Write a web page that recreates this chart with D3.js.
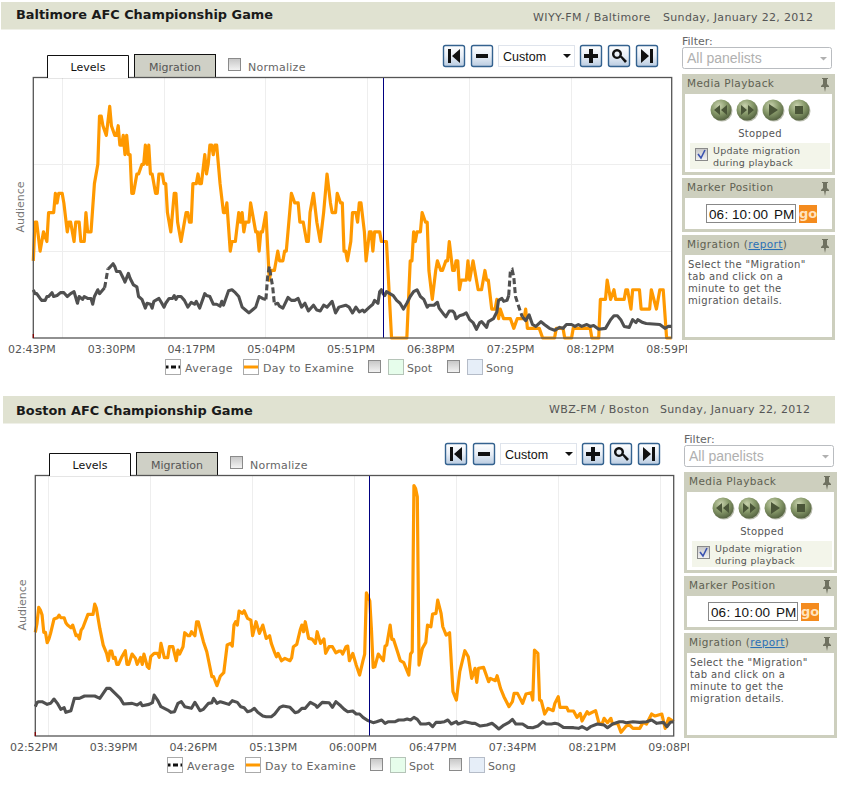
<!DOCTYPE html>
<html>
<head>
<meta charset="utf-8">
<style>
  html, body { margin: 0; padding: 0; background: #fff; }
  svg { display: block; }
  text { font-family: "DejaVu Sans", sans-serif; }
  .arial { font-family: "Liberation Sans", sans-serif; }
</style>
<script src="https://cdnjs.cloudflare.com/ajax/libs/d3/7.8.5/d3.min.js"></script>
</head>
<body>
<svg id="page" width="861" height="796"></svg>
<script>
// minutes after the first tick, audience level
const baltDayT = [0,1,2,4,5,6,8,9,12,13,14,15,17,18,20,21,22,24,25,27,28,30,31,32,34,36,38,39,40,41,43,45,46,48,49,50,51,52,53,54,55,56,57,58,59,60,61,62,64,65,66,67,68,69,70,72,73,74,76,77,78,79,81,83,84,85,87,88,90,91,92,93,94,96,97,98,99,101,102,103,104,105,106,107,108,110,112,113,114,116,117,119,121,122,123,124,125,127,128,131,132,133,134,135,136,137,139,140,142,144,145,147,148,149,150,151,152,154,156,157,159,161,162,163,165,167,169,171,172,173,175,176,178,179,181,182,183,184,185,187,188,190,191,192,193,195,196,198,199,200,201,204,205,208,211,220,222,223,224,225,226,228,229,231,232,233,235,237,238,240,241,243,244,245,247,248,249,250,251,252,255,256,257,259,262,264,266,267,268,270,272,273,274,275,277,281,283,285,289,290,291,298,300,307,308,312,313,317,318,328,329,333,334,337,338,340,342,343,348,349,350,352,353,357,358,363,364,367,369,371,373,376];
const baltDayV = [8,12,12,9,10,11,10,13,13,15,14,15,15,14,11,12,12,10,12,12,10,10,13,11,11,16,18,23,23,22,21,24,22,21,21,22,20,20,21,19,21,19,19,15,15,16,17,17,18,18,20,18,20,17,17,15,15,17,17,16,16,13,11,15,15,12,10,11,13,13,12,12,16,16,17,16,16,19,17,18,20,20,19,20,20,16,13,13,14,9,10,10,13,12,13,11,12,12,14,11,11,9,11,11,12,13,6,7,7,9,8,8,9,9,11,13,15,14,14,12,12,10,10,13,15,12,10,13,15,17,14,13,13,15,14,14,9,9,8,10,13,13,12,14,14,11,8,11,11,9,11,11,10,10,0,0,8,8,11,10,11,11,13,12,12,7,4,7,8,7,7,8,8,10,7,7,8,8,5,6,6,8,6,8,5,5,7,6,6,3,3,4,2,3,2,2,1,2,2,3,1,1,0,0,1,1,0,0,1,1,0,0,4,4,6,4,5,4,4,5,5,3,5,5,3,3,5,3,5,5,0,0];
const baltAvgT = [0,1,2,4,5,7,8,9,11,12,14,16,18,20,22,24,26,27,29,30,32,34,35,36,38,39,40,42,43,44,45,47,48,49,51,53,54,56,57,59,61,62,64,66,67,69,70,71,74,75,77,78,80,82,83,84,85,87,89,91,93,95,96,98,101,102,104,106,108,110,111,112,115,117,119,121,123,125,127,129,131,133,135,137,138,139,140,141,142,144,145,147,150,152,154,156,158,160,162,165,167,169,171,173,174,176,178,180,184,186,188,190,192,194,195,198,200,201,203,204,205,206,207,208,210,212,214,216,218,220,222,224,226,228,230,232,233,236,238,239,242,243,245,247,248,249,251,253,255,257,259,261,263,264,267,268,271,273,274,276,277,279,280,281,282,283,284,286,288,290,292,294,296,299,301,304,307,310,312,314,317,319,321,323,326,328,330,333,337,340,342,344,346,348,351,353,355,356,359,361,369,372,374,376];
const baltAvgV = [5.0,4.6,4.6,4.1,3.9,3.9,4.3,4.3,4.7,4.3,4.4,4.7,4.7,4.3,4.6,4.8,3.6,4.3,4.0,4.3,4.1,4.1,3.5,4.3,5.0,4.6,4.8,5.2,6.2,7.2,7.3,7.7,7.4,6.9,6.9,6.2,5.8,6.7,6.2,5.5,5.3,4.3,4.0,3.1,3.6,3.5,3.1,3.8,4.1,3.8,3.2,3.6,4.1,4.1,4.4,4.0,4.3,4.3,3.9,3.2,3.7,3.5,3.8,3.1,4.6,4.4,4.3,3.5,3.5,3.3,3.8,3.4,4.9,5.0,4.7,4.3,3.2,2.9,2.6,2.9,3.2,4.3,4.1,4.0,6.3,7.4,6.3,5.3,3.5,3.6,3.3,3.1,4.2,3.9,3.9,4.1,3.2,3.6,2.8,3.4,2.9,2.8,3.4,3.2,3.4,3.8,2.6,3.2,3.4,3.2,2.6,3.2,2.7,2.9,2.7,3.2,3.5,3.9,3.6,4.8,5.0,4.6,4.4,4.8,4.6,4.4,3.9,3.6,3.0,3.6,4.3,4.8,5.0,4.3,4.0,3.2,3.4,3.4,3.7,3.1,2.4,2.2,2.8,2.8,2.6,2.0,2.3,2.4,2.6,1.9,1.6,0.9,1.6,1.7,1.1,1.7,2.0,2.7,3.9,4.1,3.8,3.9,4.4,7.0,7.1,6.3,4.3,3.2,2.2,1.8,2.4,1.4,1.2,1.7,1.4,1.0,0.8,1.1,1.0,1.4,1.4,1.2,1.4,1.2,1.4,1.2,1.3,0.9,1.0,1.9,2.3,2.3,1.9,1.2,1.1,1.9,1.6,1.9,1.6,1.5,1.4,1.0,1.2,1.2];
const baltDashed = [[42,44],[137,142],[280,288]];
const baltTicks = ["02:43PM","03:30PM","04:17PM","05:04PM","05:51PM","06:38PM","07:25PM","08:12PM","08:59PM"];
const baltHours = [17,77,137,197,257,317];
const baltLevels = [9,18];
const baltMarker = 206;

const bosDayT = [0,1,2,3,4,5,6,7,8,9,11,13,14,15,17,18,19,21,22,24,25,26,27,28,31,34,35,36,38,40,42,43,44,45,46,47,48,49,51,53,54,55,57,59,60,62,63,64,66,67,68,70,72,73,74,76,78,79,81,83,84,85,87,88,90,91,92,94,95,96,97,99,101,102,104,105,107,109,111,113,115,116,117,118,119,120,122,123,125,127,128,130,132,134,136,138,139,141,142,143,145,147,150,151,152,154,156,157,158,159,161,163,165,166,168,170,171,173,175,177,179,180,181,183,184,185,187,189,191,193,194,195,197,198,199,200,202,205,206,207,209,210,211,213,215,217,220,221,222,223,224,225,226,228,230,231,233,234,236,237,239,240,242,244,246,248,250,253,255,257,259,260,261,264,267,268,271,272,274,276,279,281,282,284,287,289,292,293,294,296,297,298,300,302,305,306,308,309,313,314,317,319,321,322,325,326,330,332,334,335,337,339,340,343,345,348,350,352,356,358,360,363,365,369,371,373,376];
const bosDayV = [31.1,33.8,38.6,37.8,36.3,31.1,31.1,28.0,29.1,30.8,35.1,35.5,36.3,35.5,35.5,34.0,33.3,32.5,33.3,30.1,30.3,29.1,31.8,32.5,36.5,36.5,39.6,38.3,32.3,27.3,24.8,22.6,25.5,25.5,23.3,23.6,21.5,21.5,23.8,25.6,21.5,21.5,24.6,23.3,21.5,23.6,21.5,24.6,20.8,20.3,23.8,24.8,24.8,23.6,27.8,23.5,23.5,26.8,26.8,22.6,25.8,24.6,26.8,31.0,30.1,30.1,31.3,30.1,34.3,34.3,32.3,28.3,25.3,22.8,17.8,17.8,15.1,18.0,19.0,27.3,27.8,27.0,33.3,34.3,33.3,37.5,36.8,37.6,35.3,34.8,30.1,34.3,30.8,33.3,29.3,30.1,27.8,25.0,23.8,24.8,22.6,23.3,22.6,23.5,26.8,27.5,31.8,33.3,31.3,34.3,29.3,29.1,27.8,31.3,27.8,29.1,24.8,26.8,26.8,25.0,25.5,25.5,24.6,26.8,27.0,22.6,24.8,21.3,18.3,22.6,24.6,43.0,40.6,31.8,20.6,20.8,24.6,22.6,27.0,27.3,33.3,29.0,29.0,25.8,22.6,22.0,18.3,24.6,25.3,75.2,74.3,71.8,21.3,26.3,28.1,33.3,32.8,36.6,36.8,40.8,36.8,32.8,30.3,31.0,13.3,10.8,19.3,25.6,23.8,17.3,20.3,16.1,20.3,20.6,16.3,17.3,16.6,18.1,14.3,11.8,8.8,10.3,12.8,12.8,9.8,12.6,13.0,10.8,25.8,24.8,10.8,10.6,6.6,8.3,7.6,9.8,11.8,8.6,8.6,7.5,7.5,5.6,6.8,4.5,7.3,6.6,7.6,3.8,3.8,5.3,4.0,5.3,3.6,3.8,1.1,3.0,3.3,2.3,2.3,4.1,3.6,6.6,6.0,6.6,2.3,5.3,4.3];
const bosAvgT = [0,1,2,4,7,9,11,13,15,17,18,21,23,26,29,35,38,40,42,44,47,50,52,57,60,62,63,67,69,70,72,74,76,78,80,82,84,86,88,92,94,95,97,99,102,104,105,107,109,111,114,116,119,121,123,125,127,129,131,134,136,139,141,144,146,150,153,155,157,159,162,165,166,169,173,175,177,180,182,184,187,189,191,193,196,199,201,204,206,208,212,214,217,219,221,223,225,227,230,232,234,236,239,241,243,245,248,249,253,257,259,262,266,269,271,273,276,279,281,283,287,290,293,296,299,301,304,306,308,311,317,320,322,325,327,331,335,337,340,344,346,348,352,356,360,363,366,370,372,374,376];
const bosAvgV = [8.8,10.0,10.3,10.3,9.5,9.8,11.1,9.8,8.0,8.5,7.1,7.6,11.3,11.3,12.0,12.0,11.3,12.8,14.3,14.3,12.8,11.3,9.6,9.8,9.3,10.0,9.1,9.5,10.0,12.3,10.8,8.8,8.3,7.8,7.1,7.3,9.8,10.3,8.8,8.3,10.1,9.3,7.6,8.0,9.8,10.0,11.3,9.8,10.3,10.0,9.5,10.6,10.1,8.8,8.5,7.3,7.6,8.3,7.1,6.0,5.8,5.8,6.6,8.6,9.0,8.6,7.0,7.3,8.3,8.3,10.1,9.3,8.6,10.1,10.0,8.6,10.3,9.0,8.0,7.3,7.5,6.6,6.6,5.6,4.6,4.0,4.3,4.8,3.8,4.3,4.3,4.8,4.8,5.1,4.8,5.6,5.0,3.6,3.6,3.8,2.8,4.1,4.1,4.3,4.8,3.6,4.3,3.6,4.3,3.8,3.8,3.0,3.3,3.8,3.0,2.1,3.3,4.1,5.0,3.6,3.6,2.6,2.5,3.0,4.3,3.6,3.6,3.8,3.6,2.6,2.5,2.3,2.8,2.0,2.8,3.6,3.3,2.5,3.6,4.3,4.3,4.0,4.3,4.1,4.3,4.8,3.8,4.1,2.8,4.1,4.3];
const bosTicks = ["02:52PM","03:39PM","04:26PM","05:13PM","06:00PM","06:47PM","07:34PM","08:21PM","09:08PM"];
const bosHours = [8,68,128,188,248,308,368];
const bosMarker = 197;

const tickStep = 47;
const spanMinutes = 376;

const svg = d3.select("#page");
const defs = svg.append("defs");

function gradient(id, stops, radial) {
  const g = radial
    ? defs.append("radialGradient").attr("id", id).attr("cx", "40%").attr("cy", "30%").attr("r", "75%")
    : defs.append("linearGradient").attr("id", id).attr("x1", 0).attr("y1", 0).attr("x2", 0).attr("y2", 1);
  stops.forEach((c, i) => g.append("stop").attr("offset", i / (stops.length - 1)).attr("stop-color", c));
}
gradient("btnBlue", ["#ffffff", "#e8eef6", "#b9cbe0"]);
gradient("btnGreen", ["#c9d2ae", "#87996a", "#4f5d3c"], true);
gradient("chk", ["#c6c6c6", "#f4f4f4"]);

function label(g, x, y, str, size, color, opts = {}) {
  const t = g.append("text").attr("x", x).attr("y", y).text(str)
    .attr("font-size", size).attr("fill", color);
  if (opts.anchor) t.attr("text-anchor", opts.anchor);
  if (opts.weight) t.attr("font-weight", opts.weight);
  if (opts.cls) t.attr("class", opts.cls);
  if (opts.spacing) t.attr("letter-spacing", opts.spacing);
  return t;
}

function checkbox(g, x, y, checked) {
  g.append("rect").attr("x", x + .5).attr("y", y + .5).attr("width", 12).attr("height", 12)
    .attr("fill", "url(#chk)").attr("stroke", "#8a8a8a");
  if (checked) {
    g.append("path").attr("d", `M${x + 3},${y + 6} l3,4 l4,-8`)
      .attr("fill", "none").attr("stroke", "#3a52b0").attr("stroke-width", 1.6);
  }
}

function toolButton(g, x, icon) {
  g.append("rect").attr("x", x + .5).attr("y", 45.5).attr("width", 21).attr("height", 21).attr("rx", 2)
    .attr("fill", "url(#btnBlue)").attr("stroke", "#34628f").attr("stroke-width", 1.4);
  g.append("path").attr("d", icon).attr("transform", `translate(${x},45)`).attr("fill", "#111");
}

function pin(g, x, y) {
  g.append("path").attr("transform", `translate(${x},${y})`)
    .attr("d", "M-3,0 h6 v1 h-1 v5 l2,2 v1 h-3 l-1,5 l-1,-5 h-3 v-1 l2,-2 v-5 h-1 z")
    .attr("fill", "#6f7160");
}

function sideBox(g, top, bottom, innerTop, innerBottom, title) {
  g.append("rect").attr("x", 682).attr("y", top).attr("width", 153).attr("height", bottom - top).attr("fill", "#cdcfbe");
  g.append("rect").attr("x", 685).attr("y", innerTop).attr("width", 147).attr("height", innerBottom - innerTop).attr("fill", "#fff");
  if (title) label(g, 687, top + 13, title, 10.5, "#5f6152", { spacing: 0.4 });
  pin(g, 825, top + 4);
}

function playButton(g, cx, icon) {
  g.append("circle").attr("cx", cx + 1).attr("cy", 111).attr("r", 10.5).attr("fill", "#b9bcae");
  g.append("circle").attr("cx", cx).attr("cy", 110).attr("r", 10.5).attr("fill", "url(#btnGreen)");
  g.append("path").attr("d", icon).attr("transform", `translate(${cx},110)`).attr("fill", "#4a5538");
}

function drawPanel(cfg) {
  // header strip sits a little apart from the rest of the block
  const head = svg.append("g").attr("transform", `translate(0,${cfg.headY})`);
  head.append("rect").attr("x", cfg.headX).attr("y", 0).attr("width", cfg.headW).attr("height", 27.5).attr("fill", "#e0e2d1");
  label(head, 16, cfg.titleY, cfg.title, 12.9, "#1a1a1a", { weight: "bold" });
  label(head, cfg.stationX, cfg.metaY, cfg.station, 11, "#555", { spacing: 0.4 });
  label(head, cfg.dateX, cfg.metaY, "Sunday, January 22, 2012", 11, "#555", { spacing: 0.33 });

  const g = svg.append("g").attr("transform", `translate(${cfg.dx},${cfg.dy})`);

  // tabs
  g.append("rect").attr("x", 134.5).attr("y", 54.5).attr("width", 81).attr("height", 24).attr("fill", "#cfd0c6").attr("stroke", "#111");
  label(g, 175, 71, "Migration", 11, "#555", { anchor: "middle" });
  checkbox(g, 228, 58, false);
  label(g, 248, 71, "Normalize", 11, "#666", { spacing: 0.25 });

  // toolbar
  toolButton(g, 443, "M5,4 h3 v14 h-3 z M17,4 v14 l-8,-7 z");
  toolButton(g, 471, "M5,9 h12 v4 h-12 z");
  g.append("rect").attr("x", 498.5).attr("y", 45.5).attr("width", 76).attr("height", 21).attr("fill", "#fff").attr("stroke", "#dfe4ec");
  label(g, 503, 61, "Custom", 12.5, "#111", { cls: "arial" });
  g.append("path").attr("d", "M563,54 h8 l-4,4 z").attr("fill", "#111");
  toolButton(g, 580, "M9,4 h4 v5 h5 v4 h-5 v5 h-4 v-5 h-5 v-4 h5 z");
  toolButton(g, 608, "M9,4 a5,5 0 1 1 -0.01,0 z M9,6.5 a2.6,2.6 0 1 0 0.01,0 z M12,12 l2,-1 l5,5 l-2,2 z");
  toolButton(g, 636, "M5,4 l8,7 l-8,7 z M14,4 h3 v14 h-3 z");

  // plot
  const left = 33.3, right = 671.7, top = 77.5, bottom = 338;
  const x = d3.scaleLinear().domain([0, spanMinutes]).range([left, right]);
  const y = d3.scaleLinear().domain(cfg.domain).range([bottom, top]);

  g.append("rect").attr("x", left).attr("y", top).attr("width", right - left).attr("height", bottom - top).attr("fill", "#fff");
  g.selectAll(".vgrid").data(cfg.hours).join("line").attr("class", "vgrid")
    .attr("x1", x).attr("x2", x).attr("y1", top).attr("y2", bottom)
    .attr("stroke", "#eeeeee").attr("shape-rendering", "crispEdges");
  g.selectAll(".hgrid").data(cfg.levels).join("line").attr("class", "hgrid")
    .attr("x1", left).attr("x2", right).attr("y1", y).attr("y2", y)
    .attr("stroke", "#eeeeee").attr("shape-rendering", "crispEdges");

  const day = d3.zip(cfg.dayT, cfg.dayV);
  const avg = d3.zip(cfg.avgT, cfg.avgV);
  const inDash = t => cfg.dashed.some(r => t >= r[0] && t <= r[1]);
  const inDashOpen = t => cfg.dashed.some(r => t > r[0] && t < r[1]);
  const line = d3.line().x(d => x(d[0])).y(d => y(d[1]));

  g.append("path").attr("d", line(day)).attr("fill", "none")
    .attr("stroke", "#ff9900").attr("stroke-width", 3.2).attr("stroke-linejoin", "round");
  g.append("path").attr("d", line.defined(d => !inDashOpen(d[0]))(avg)).attr("fill", "none")
    .attr("stroke", "#505050").attr("stroke-width", 3.1).attr("stroke-linejoin", "round");
  if (cfg.dashed.length) {
    g.append("path").attr("d", line.defined(d => inDash(d[0]))(avg)).attr("fill", "none")
      .attr("stroke", "#505050").attr("stroke-width", 3.1).attr("stroke-dasharray", "6 3");
  }

  g.append("line").attr("x1", x(cfg.marker)).attr("x2", x(cfg.marker)).attr("y1", top).attr("y2", bottom)
    .attr("stroke", "#000080").attr("stroke-width", 1).attr("shape-rendering", "crispEdges");
  g.append("rect").attr("x", left).attr("y", top).attr("width", right - left).attr("height", bottom - top)
    .attr("fill", "none").attr("stroke", "#555").attr("stroke-width", 1.3);
  g.append("line").attr("x1", left).attr("x2", left).attr("y1", bottom - 4).attr("y2", bottom).attr("stroke", "#800000").attr("stroke-width", 1.3);

  // white tab overlaps the frame, so it goes on after the plot
  g.append("path").attr("d", "M47.5,78 V55.5 H128.5 V78").attr("fill", "#fff").attr("stroke", "#111");
  label(g, 88, 71, "Levels", 11, "#111", { anchor: "middle" });

  label(g, 0, 0, "Audience", 11, "#777", { anchor: "middle" })
    .attr("transform", "translate(24,207) rotate(-90)");

  // axis labels run off the edge of the chart area
  const clipId = "clip" + cfg.dy;
  defs.append("clipPath").attr("id", clipId).append("rect").attr("x", 0).attr("y", 340).attr("width", 687).attr("height", 20);
  const axis = d3.axisBottom(x).tickValues(d3.range(0, spanMinutes + 1, tickStep))
    .tickFormat((d, i) => cfg.ticks[i]).tickSize(0).tickPadding(7);
  const axisG = g.append("g").attr("clip-path", `url(#${clipId})`)
    .append("g").attr("transform", `translate(-2,${bottom})`).call(axis);
  axisG.select(".domain").remove();
  axisG.selectAll("text").attr("font-size", 11).attr("font-family", "DejaVu Sans").attr("fill", "#555");

  // legend
  g.append("rect").attr("x", 165.5).attr("y", 359.5).attr("width", 15).attr("height", 15).attr("fill", "#fff").attr("stroke", "#aaa");
  g.append("line").attr("x1", 166).attr("x2", 180).attr("y1", 367).attr("y2", 367)
    .attr("stroke", "#111").attr("stroke-width", 3).attr("stroke-dasharray", "2.5 2.5 5 2.5");
  label(g, 185, 372, "Average", 11, "#666", { spacing: 0.4 });
  g.append("rect").attr("x", 243.5).attr("y", 359.5).attr("width", 15).attr("height", 15).attr("fill", "#fff").attr("stroke", "#aaa");
  g.append("line").attr("x1", 244).attr("x2", 258).attr("y1", 367).attr("y2", 367)
    .attr("stroke", "#ff9900").attr("stroke-width", 3);
  label(g, 263, 372, "Day to Examine", 11, "#666", { spacing: 0.25 });
  checkbox(g, 368, 360, false);
  g.append("rect").attr("x", 388.5).attr("y", 359.5).attr("width", 15).attr("height", 15).attr("fill", "#e6fdeb").attr("stroke", "#b5c4b8");
  label(g, 407, 372, "Spot", 11, "#666");
  checkbox(g, 447, 360, false);
  g.append("rect").attr("x", 467.5).attr("y", 359.5).attr("width", 15).attr("height", 15).attr("fill", "#e6eef8").attr("stroke", "#b5bcc8");
  label(g, 486, 372, "Song", 11, "#666");

  // right column
  label(g, 682, 45, "Filter:", 11, "#666");
  g.append("rect").attr("x", 682.5).attr("y", 47.5).attr("width", 149).attr("height", 21).attr("rx", 2).attr("fill", "#fff").attr("stroke", "#b9bcc0");
  label(g, 687, 63, "All panelists", 14, "#b0b0b0", { cls: "arial" });
  g.append("path").attr("d", "M820,57 h7 l-3.5,3.5 z").attr("fill", "#b0b0b0");

  sideBox(g, 74, 175, 94, 172, "Media Playback");
  playButton(g, 721, "M-1,-5 v10 l-6,-5 z M6,-5 v10 l-6,-5 z");
  playButton(g, 747, "M-6,-5 v10 l6,-5 z M1,-5 v10 l6,-5 z");
  playButton(g, 773, "M-4,-6 v12 l9,-6 z");
  playButton(g, 799, "M-4,-4 h8 v8 h-8 z");
  label(g, 760, 137, "Stopped", 10, "#555", { anchor: "middle", spacing: 0.3 });
  g.append("rect").attr("x", 690).attr("y", 143).attr("width", 140).attr("height", 26).attr("fill", "#f3f5ea");
  checkbox(g, 695, 148, true);
  label(g, 713, 154, "Update migration", 9.5, "#555", { spacing: 0.25 });
  label(g, 713, 166, "during playback", 9.5, "#555", { spacing: 0.25 });

  sideBox(g, 178, 232, 198, 229, "Marker Position");
  g.append("rect").attr("x", 706.5).attr("y", 204.5).attr("width", 89).attr("height", 18).attr("fill", "#fff").attr("stroke", "#888");
  [["06", 709], [":", 724.5], ["10", 732], [":", 747.5], ["00", 753], ["PM", 774]].forEach(([s, px]) => {
    label(g, px, 219, s, 13.5, "#111", { cls: "arial" });
  });
  g.append("rect").attr("x", 799).attr("y", 205).attr("width", 18).attr("height", 18).attr("fill", "#f48b1e");
  label(g, 808, 218, "go", 13, "#ffe3bf", { anchor: "middle", weight: "bold" });

  sideBox(g, 235, 340, 255, 337, null);
  const mig = label(g, 687, 248, "Migration (", 10.5, "#5f6152", { spacing: 0.4 });
  mig.append("tspan").attr("fill", "#2a6fb5").attr("text-decoration", "underline").text("report");
  mig.append("tspan").text(")");
  ["Select the \"Migration\"", "tab and click on a", "minute to get the", "migration details."].forEach((s, i) => {
    label(g, 688, 268 + i * 12, s, 10, "#555", { spacing: 0.35 });
  });
}

drawPanel({
  title: "Baltimore AFC Championship Game", station: "WIYY-FM / Baltimore",
  headX: 1, headW: 834, headY: 2, titleY: 17, metaY: 19, stationX: 533, dateX: 663, dx: 0, dy: 0,
  domain: [0, 27], levels: baltLevels, hours: baltHours, ticks: baltTicks, marker: baltMarker,
  dayT: baltDayT, dayV: baltDayV, avgT: baltAvgT, avgV: baltAvgV, dashed: baltDashed
});

drawPanel({
  title: "Boston AFC Championship Game", station: "WBZ-FM / Boston",
  headX: 3, headW: 832, headY: 396, titleY: 19, metaY: 17, stationX: 549, dateX: 660, dx: 2, dy: 398,
  domain: [0, 78.2], levels: [], hours: bosHours, ticks: bosTicks, marker: bosMarker,
  dayT: bosDayT, dayV: bosDayV, avgT: bosAvgT, avgV: bosAvgV, dashed: []
});
</script>
</body>
</html>
